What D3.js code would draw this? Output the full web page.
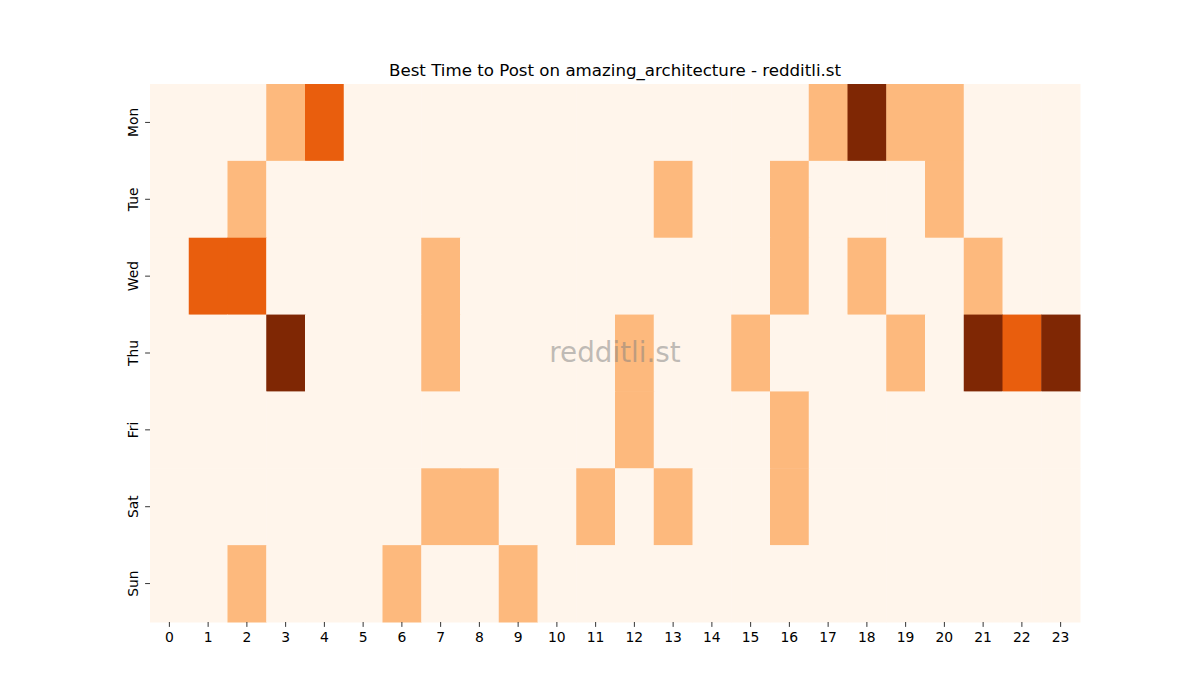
<!DOCTYPE html>
<html><head><meta charset="utf-8">
<script src="https://cdn.jsdelivr.net/npm/d3@7"></script>
<style>body{margin:0;background:#fff}svg{display:block;font-family:"DejaVu Sans",sans-serif}</style>
</head><body><svg id="c" width="1200" height="700"></svg>
<script>
const days = ["Mon","Tue","Wed","Thu","Fri","Sat","Sun"];
const hours = d3.range(24).map(String);
const monValues = [0,0,0,1,2,0,0,0,0,0,0,0,0,0,0,0,0,1,3,1,1,0,0,0];
const tueValues = [0,0,1,0,0,0,0,0,0,0,0,0,0,1,0,0,1,0,0,0,1,0,0,0];
const wedValues = [0,2,2,0,0,0,0,1,0,0,0,0,0,0,0,0,1,0,1,0,0,1,0,0];
const thuValues = [0,0,0,3,0,0,0,1,0,0,0,0,1,0,0,1,0,0,0,1,0,3,2,3];
const friValues = [0,0,0,0,0,0,0,0,0,0,0,0,1,0,0,0,1,0,0,0,0,0,0,0];
const satValues = [0,0,0,0,0,0,0,1,1,0,0,1,0,1,0,0,1,0,0,0,0,0,0,0];
const sunValues = [0,0,1,0,0,0,1,0,0,1,0,0,0,0,0,0,0,0,0,0,0,0,0,0];
const grid = [monValues,tueValues,wedValues,thuValues,friValues,satValues,sunValues];
const title = "Best Time to Post on amazing_architecture - redditli.st";
const watermark = "redditli.st";

const cells = [];
grid.forEach((row,i)=>row.forEach((v,j)=>cells.push({day:days[i],hour:hours[j],v})));

const svg = d3.select("#c");
const L=150,R=1080,T=84,B=622;
const x = d3.scaleBand().domain(hours).range([L,R]);
const y = d3.scaleBand().domain(days).range([T,B]);
const color = d3.scaleOrdinal().domain([0,1,2,3]).range(["#fff5eb","#fdb97d","#e95e0d","#7f2704"]);

svg.append("g").selectAll("rect").data(cells).join("rect")
  .attr("x",d=>x(d.hour)).attr("y",d=>y(d.day))
  .attr("width",x.bandwidth()+0.5).attr("height",y.bandwidth()+0.5)
  .attr("fill",d=>color(d.v));

const xa = svg.append("g").attr("transform",`translate(0,${B})`).call(d3.axisBottom(x).tickSize(4.9).tickPadding(4.9));
xa.select(".domain").remove();
xa.selectAll("text").attr("font-size",13.9).attr("fill","#000").attr("font-family","DejaVu Sans");
xa.selectAll("line").attr("stroke","#000").attr("stroke-width",0.8);

const ya = svg.append("g").attr("transform",`translate(${L},0)`).call(d3.axisLeft(y).tickSize(4.9).tickPadding(4.9));
ya.select(".domain").remove();
ya.selectAll("line").attr("stroke","#000").attr("stroke-width",0.8);
ya.selectAll("text").attr("font-size",13.9).attr("fill","#000").attr("font-family","DejaVu Sans")
  .attr("text-anchor","middle").attr("dy",0).attr("x",0)
  .attr("transform",d=>`translate(-12.5,0) rotate(-90)`).attr("dominant-baseline","auto");

svg.append("text").attr("x",(L+R)/2).attr("y",76).attr("text-anchor","middle")
  .attr("font-size",16.67).attr("fill","#000").text(title);

svg.append("text").attr("x",615).attr("y",362).attr("text-anchor","middle")
  .attr("font-size",27.8).attr("fill","#808080").attr("fill-opacity",0.5).text(watermark);
</script></body></html>
